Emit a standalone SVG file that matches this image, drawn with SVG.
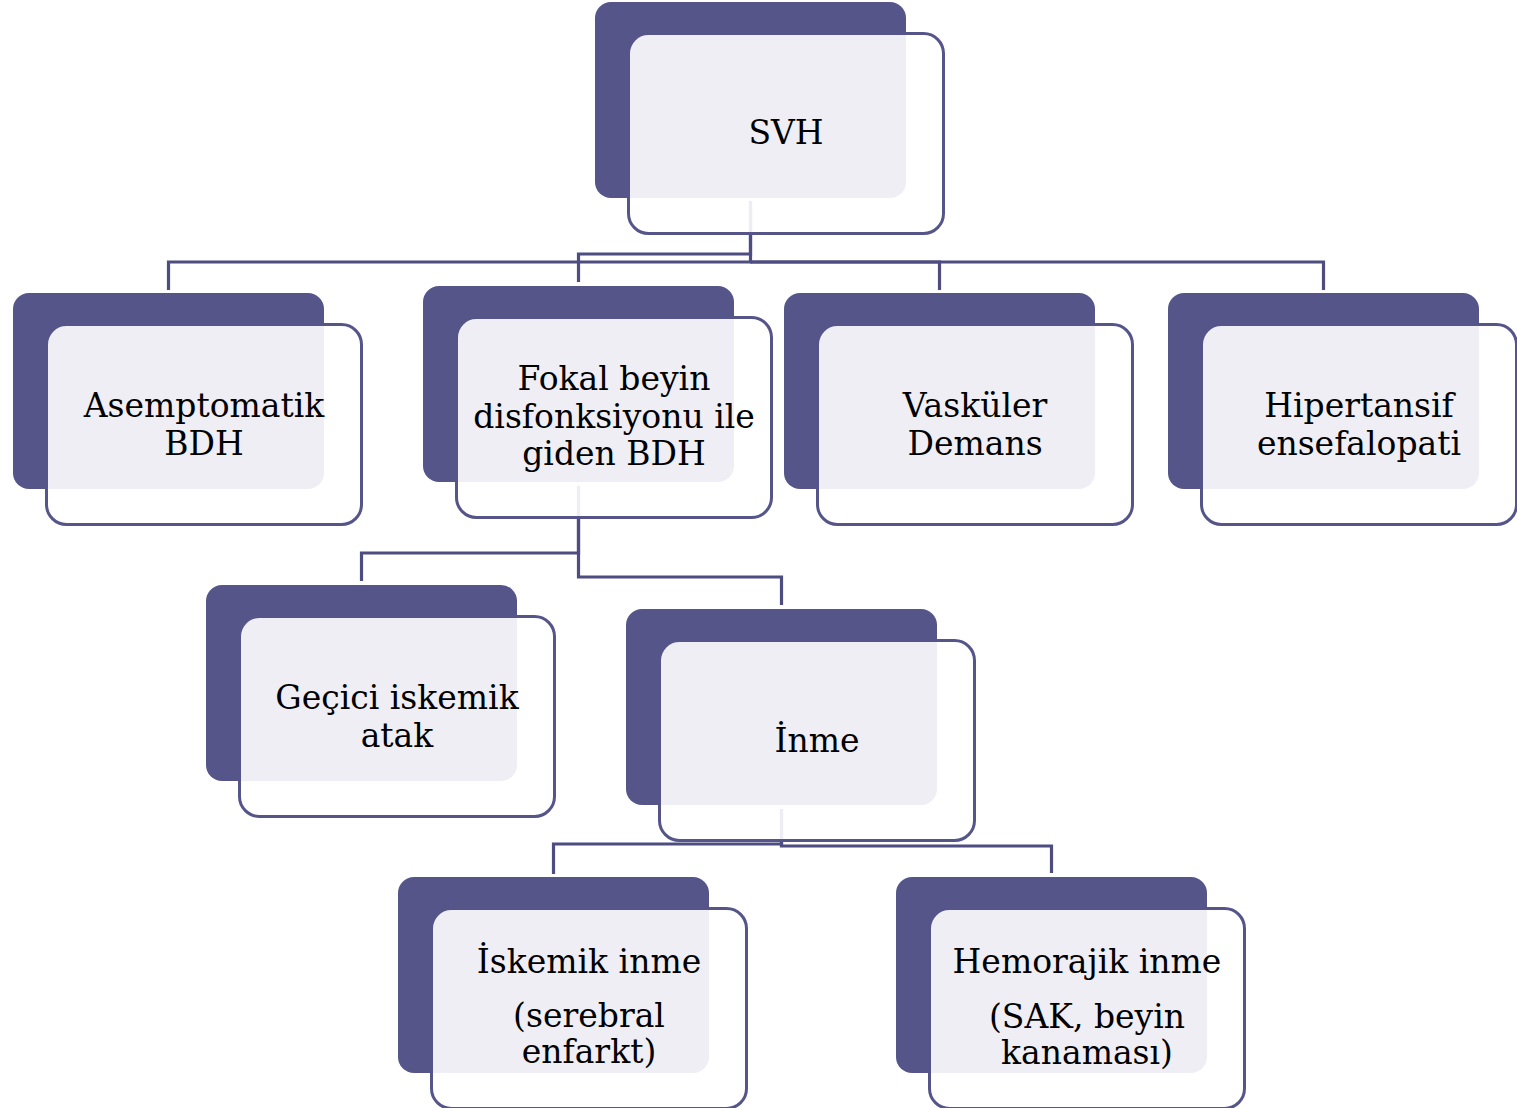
<svg xmlns="http://www.w3.org/2000/svg" width="1517" height="1108" viewBox="0 0 1517 1108">
<style>
.bg{fill:#55558A}
.fg{fill:#FFFFFF;fill-opacity:0.9;stroke:#55558A;stroke-width:3}
.cn{fill:none;stroke:#4D4D82;stroke-width:3.2}
text{font-family:"DejaVu Serif","Liberation Serif",serif;font-size:33px;fill:#000;text-anchor:middle}
</style>
<defs>
<rect id="back" width="311" height="196" rx="16"/>
<rect id="front" x="33.5" y="31.5" width="315" height="200" rx="20"/>
</defs>
<rect width="1517" height="1108" fill="#FFFFFF"/>
<g id="connectors">
<path class="cn" d="M750.5 201 V262 H168.5 V290"/>
<path class="cn" d="M750.5 201 V254 H578.5 V282"/>
<path class="cn" d="M750.5 262 H939.5 V290"/>
<path class="cn" d="M750.5 262 H1323.5 V290"/>
<path class="cn" d="M578.5 486 V553 H361.5 V581"/>
<path class="cn" d="M578.5 486 V577 H781.5 V605"/>
<path class="cn" d="M781.5 809 V844 H553.5 V874"/>
<path class="cn" d="M781.5 809 V846 H1051.5 V873"/>
</g>
<g id="svh" transform="translate(595,2)">
<use href="#back" class="bg"/><use href="#front" class="fg"/>
<text x="191" y="142">SVH</text>
</g>
<g id="asemptomatik" transform="translate(13,293)">
<use href="#back" class="bg"/><use href="#front" class="fg"/>
<text x="191" y="124">Asemptomatik</text>
<text x="191" y="162">BDH</text>
</g>
<g id="fokal" transform="translate(423,286)">
<use href="#back" class="bg"/><use href="#front" class="fg"/>
<text x="191" y="104">Fokal beyin</text>
<text x="191" y="142">disfonksiyonu ile</text>
<text x="191" y="179">giden BDH</text>
</g>
<g id="vaskuler" transform="translate(784,293)">
<use href="#back" class="bg"/><use href="#front" class="fg"/>
<text x="191" y="124">Vasküler</text>
<text x="191" y="162">Demans</text>
</g>
<g id="hipertansif" transform="translate(1168,293)">
<use href="#back" class="bg"/><use href="#front" class="fg"/>
<text x="191" y="124">Hipertansif</text>
<text x="191" y="162">ensefalopati</text>
</g>
<g id="gecici" transform="translate(206,585)">
<use href="#back" class="bg"/><use href="#front" class="fg"/>
<text x="191" y="124">Geçici iskemik</text>
<text x="191" y="162">atak</text>
</g>
<g id="inme" transform="translate(626,609)">
<use href="#back" class="bg"/><use href="#front" class="fg"/>
<text x="191" y="143">İnme</text>
</g>
<g id="iskemik" transform="translate(398,877)">
<use href="#back" class="bg"/><use href="#front" class="fg"/>
<text x="191" y="96">İskemik inme</text>
<text x="191" y="150">(serebral</text>
<text x="191" y="186">enfarkt)</text>
</g>
<g id="hemorajik" transform="translate(896,877)">
<use href="#back" class="bg"/><use href="#front" class="fg"/>
<text x="191" y="96">Hemorajik inme</text>
<text x="191" y="151">(SAK, beyin</text>
<text x="191" y="187">kanaması)</text>
</g>
</svg>
